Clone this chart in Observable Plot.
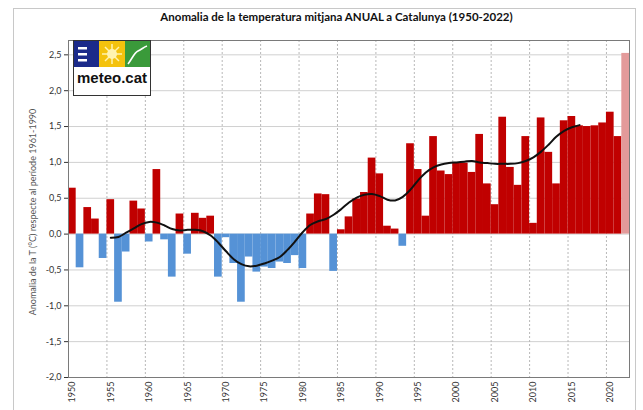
<!DOCTYPE html>
<html><head><meta charset="utf-8">
<script src="https://cdn.jsdelivr.net/npm/d3@7"></script>
<script src="https://cdn.jsdelivr.net/npm/@observablehq/plot@0.6"></script>
<style>
body{margin:0;background:#fff;font-family:Lato,"Open Sans",sans-serif;}
#wrap{position:relative;width:643px;height:410px;overflow:hidden;}
#outer{position:absolute;left:13px;top:8px;width:623px;height:420px;border:1px solid #c8c8c8;box-sizing:border-box;}
#title{position:absolute;left:0;width:643px;top:10px;text-align:center;padding-left:30px;box-sizing:border-box;font:bold 11.5px Lato,sans-serif;color:#111;}
#ylab{position:absolute;left:32px;top:212px;transform:translate(-50%,-50%) rotate(-90deg);white-space:nowrap;font:9px Lato,sans-serif;color:#555;}
#chart{position:absolute;left:0;top:0;}
#logo{position:absolute;left:73px;top:40px;width:78px;height:56px;background:#fff;border:1px solid #333;box-sizing:border-box;}
#logo .txt{position:absolute;left:0;top:28px;width:76px;text-align:center;font:bold 15px "Liberation Sans",Arial,sans-serif;color:#111;}
</style></head>
<body>
<div id="wrap">
<div id="outer"></div>
<div id="chart"></div>
<div id="title">Anomalia de la temperatura mitjana ANUAL a Catalunya (1950-2022)</div>
<div id="ylab">Anomalia de la T (°C) respecte al període 1961-1990</div>
<div id="logo">
<svg width="76" height="26" style="position:absolute;left:0;top:0">
<rect x="0" y="0" width="25" height="26" fill="#1b2a8a"/>
<rect x="4" y="6" width="9" height="2.5" fill="#fff"/><rect x="4" y="12" width="9" height="2.5" fill="#fff"/><rect x="4" y="18" width="9" height="2.5" fill="#fff"/>
<rect x="25" y="0" width="26" height="26" fill="#f4c20d"/>
<circle cx="38" cy="13" r="5" fill="#fff3b0"/>
<g stroke="#fff3b0" stroke-width="1.5"><line x1="38" y1="3" x2="38" y2="23"/><line x1="28" y1="13" x2="48" y2="13"/><line x1="31" y1="6" x2="45" y2="20"/><line x1="45" y1="6" x2="31" y2="20"/></g>
<rect x="51" y="0" width="25" height="26" fill="#3a9a3a"/>
<path d="M54 23 C58 18,60 12,64 10 S70 6,73 5" stroke="#fff" stroke-width="1.6" fill="none"/>
</svg>
<div class="txt">meteo.cat</div>
</div>
</div>
<script>
const years = d3.range(1950, 2023);
const anomalies = [
 0.64,-0.47,0.37,0.21,-0.34,0.48,-0.95,-0.25,0.46,0.35,
 -0.11,0.90,-0.08,-0.60,0.28,-0.28,0.29,0.22,0.25,-0.60,
 -0.05,-0.41,-0.95,-0.32,-0.53,-0.46,-0.48,-0.39,-0.41,-0.30,
 -0.48,0.28,0.56,0.55,-0.52,0.06,0.24,0.49,0.58,1.06,
 0.84,0.11,0.07,-0.17,1.26,0.90,0.25,1.36,0.88,0.83,
 0.99,0.99,0.86,1.39,0.70,0.41,1.63,0.93,0.68,1.36,
 0.15,1.62,1.14,0.70,1.58,1.64,1.51,1.50,1.51,1.55,
 1.70,1.36,2.52];
const smoothYears = d3.range(1955, 2017);
const smoothValues = [
 -0.05,-0.04,0.02,0.08,0.14,0.17,0.16,0.12,0.07,0.05,
 0.06,0.06,0.04,-0.02,-0.12,-0.24,-0.35,-0.42,-0.45,-0.44,
 -0.41,-0.37,-0.32,-0.22,-0.10,0.03,0.13,0.18,0.21,0.27,
 0.35,0.44,0.51,0.55,0.56,0.53,0.48,0.47,0.52,0.62,
 0.75,0.86,0.93,0.97,0.99,1.00,1.01,1.02,1.00,0.99,
 0.98,0.98,0.98,0.99,1.02,1.07,1.15,1.25,1.36,1.44,
 1.49,1.52];
const xTickYears = d3.range(1950, 2021, 5);
const yTicks = [-2,-1.5,-1,-0.5,0,0.5,1,1.5,2,2.5];
const provisionalYear = 2022;

const bars = years.map((y,i)=>({year:y, value:anomalies[i]}));
const smooth = smoothYears.map((y,i)=>({year:y, value:smoothValues[i]}));
const vGrid = xTickYears.slice(1).map(y=>y-0.5);

const colorOf = d => d.year===provisionalYear ? "#e39a9a" : (d.value>=0 ? "#c00000" : "#5592d6");

const chart = Plot.plot({
  width:643, height:410,
  marginLeft:68, marginRight:14, marginTop:40, marginBottom:33,
  style:{fontFamily:"Lato, sans-serif", fontSize:"9px", color:"#333", background:"transparent"},
  x:{type:"linear", domain:[1949.5,2022.5]},
  y:{domain:[-2,2.7]},
  marks:[
    Plot.ruleY(yTicks, {stroke:"#d0d0d0", strokeWidth:1}),
    Plot.ruleX(vGrid, {stroke:"#b8b8b8", strokeDasharray:"2,2", strokeWidth:1}),
    Plot.rectY(bars, {x1:d=>d.year-0.5, x2:d=>d.year+0.5, y1:0, y2:"value", fill:colorOf, inset:0}),
    Plot.line(smooth, {x:"year", y:"value", stroke:"#111", strokeWidth:2, curve:"catmull-rom"}),
    Plot.frame({stroke:"#7a7a7a"}),
    Plot.axisY(yTicks, {tickFormat:d=>d.toFixed(1).replace(".",","), tickSize:4, tickPadding:3, label:null, fontSize:9}),
    Plot.axisX(xTickYears, {tickFormat:d=>String(d), tickRotate:-90, tickSize:0, tickPadding:4, label:null, fontSize:9})
  ]
});
document.getElementById("chart").appendChild(chart);
</script>
</body></html>
